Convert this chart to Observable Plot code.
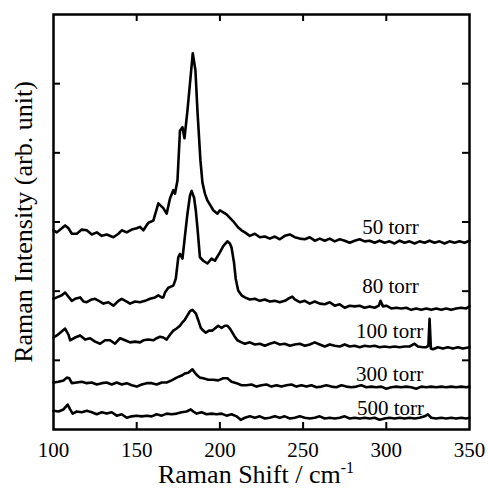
<!DOCTYPE html>
<html><head><meta charset="utf-8">
<script src="https://cdn.jsdelivr.net/npm/d3@7"></script>
<script src="https://cdn.jsdelivr.net/npm/@observablehq/plot@0.6"></script>
<style>body{margin:0;background:#fff} svg{display:block}</style>
</head><body><div id="chart"></div><script>
// Raman shift (cm^-1) and intensity (arb. units, vertically offset) per pressure
const x50 = [100,102,105,107,109,111,114,117,120,123,126,129,132,136,139,141,144,147,150,152,154,157,160,163,166,168,170,172,173,174.5,176,177.5,178.7,180.5,182,183.7,185.3,186.5,188.3,189.5,191,192.5,194.3,196,198.5,200,202,204,206,208,211,213,215,218,221,224,227,230,233,236,239,242,245,248,251,254,257,260,263,266,269,272,275,278,281,284,287,290,293,296,299,302,305,308,311,314,317,320,323,326,329,332,335,338,341,344,347,350];
const y50 = [2.88,2.85,2.91,2.95,2.91,2.83,2.83,2.89,2.88,2.82,2.85,2.80,2.82,2.78,2.83,2.88,2.85,2.89,2.91,2.93,2.88,2.99,3.02,3.27,3.20,3.12,3.34,3.46,3.41,3.60,4.32,4.37,4.21,4.61,5.00,5.44,5.19,4.61,3.89,3.57,3.41,3.31,3.24,3.17,3.12,3.17,3.14,3.11,3.06,3.01,2.92,2.88,2.85,2.80,2.83,2.78,2.79,2.76,2.79,2.75,2.80,2.82,2.78,2.76,2.75,2.78,2.73,2.76,2.73,2.76,2.72,2.75,2.73,2.70,2.73,2.75,2.72,2.73,2.70,2.73,2.70,2.72,2.69,2.73,2.70,2.72,2.69,2.72,2.70,2.73,2.70,2.72,2.69,2.72,2.70,2.72,2.70,2.73];

const x80 = [100,102,105,107,109,111,113,116,118,120,123,125,128,130,133,136,139,141,144,146,149,152,155,158,161,163,165,166,167,169,172,173.5,175,176,177.5,179,180.5,182,183,184.5,185.5,186.5,188,190,192.5,195,197,200,202,204.5,206,207,208.5,209.5,211,213,215,218,221,224,227,230,233,236,239,241,243.5,245,248,251,254,257,260,263,266,269,272,275,278,281,284,287,290,293,295.5,296.5,298,300,303,306,309,312,315,318,321,324,327,330,333,336,339,342,345,348,350];
const y80 = [1.89,1.91,1.94,1.98,1.92,1.86,1.89,1.91,1.85,1.84,1.88,1.89,1.85,1.82,1.84,1.79,1.86,1.89,1.85,1.82,1.85,1.84,1.86,1.89,1.91,1.94,1.91,1.91,1.98,2.05,2.08,2.18,2.49,2.54,2.47,2.80,3.12,3.38,3.45,3.35,3.17,2.92,2.49,2.44,2.40,2.47,2.44,2.56,2.65,2.72,2.69,2.63,2.41,2.18,2.01,1.94,1.91,1.88,1.89,1.86,1.88,1.85,1.86,1.84,1.86,1.89,1.92,1.88,1.84,1.86,1.82,1.85,1.82,1.81,1.84,1.79,1.81,1.76,1.79,1.78,1.79,1.76,1.78,1.76,1.79,1.86,1.78,1.79,1.75,1.76,1.75,1.76,1.73,1.75,1.73,1.75,1.73,1.75,1.73,1.75,1.73,1.75,1.76,1.75,1.78];

const x100 = [100,102,104,107,109,110,113,116,119,122,125,128,131,134,137,140,143,146,149,152,154,157,160,162,164,166,168,170,172,174,176,177.5,179,180.5,182,183.5,185.5,187,188.5,190,191.5,193.5,195.5,197,199,201,203,204.5,206,207.5,209,210.5,213,215,218,221,224,227,230,233,236,239,242,245,248,251,254,257,260,263,266,269,272,275,278,281,284,287,290,293,296,299,302,305,308,311,314,317,319,322,324,325.3,326,326.8,328,331,334,337,340,343,346,350];
const y100 = [1.33,1.36,1.40,1.46,1.37,1.29,1.33,1.36,1.30,1.32,1.27,1.24,1.29,1.29,1.24,1.32,1.29,1.26,1.27,1.26,1.29,1.30,1.29,1.32,1.34,1.33,1.30,1.37,1.43,1.46,1.50,1.55,1.59,1.65,1.71,1.73,1.68,1.58,1.47,1.43,1.40,1.43,1.43,1.46,1.50,1.47,1.50,1.50,1.46,1.40,1.34,1.29,1.26,1.24,1.26,1.23,1.24,1.21,1.24,1.26,1.23,1.24,1.21,1.23,1.24,1.21,1.23,1.26,1.23,1.20,1.23,1.21,1.20,1.23,1.20,1.21,1.19,1.21,1.20,1.21,1.19,1.20,1.19,1.20,1.19,1.20,1.20,1.24,1.20,1.19,1.19,1.21,1.60,1.17,1.16,1.19,1.17,1.19,1.17,1.19,1.17,1.19];

const x300 = [100,103,106,108,109.5,111,114,117,120,123,126,129,132,135,138,141,144,147,150,153,156,159,162,165,168,171,174,177,179,181,183.5,185,186.5,188,190,193,196,199,202,204.5,207,210,213,216,219,222,225,228,231,234,237,240,243,246,249,252,255,258,261,264,267,270,273,276,279,282,285,288,291,294,297,300,303,306,309,312,315,318,321,324,327,330,333,336,339,342,345,348,350];
const y300 = [0.68,0.69,0.71,0.75,0.74,0.67,0.68,0.69,0.67,0.68,0.65,0.67,0.68,0.65,0.68,0.65,0.67,0.64,0.62,0.65,0.67,0.67,0.65,0.68,0.68,0.71,0.75,0.78,0.81,0.82,0.87,0.82,0.78,0.75,0.74,0.72,0.72,0.71,0.74,0.74,0.69,0.67,0.64,0.64,0.65,0.62,0.64,0.65,0.62,0.64,0.62,0.64,0.65,0.62,0.64,0.62,0.64,0.61,0.62,0.64,0.62,0.61,0.64,0.62,0.61,0.62,0.64,0.61,0.62,0.61,0.62,0.59,0.61,0.62,0.61,0.62,0.61,0.59,0.62,0.61,0.62,0.61,0.62,0.61,0.62,0.61,0.62,0.61,0.62];

const x500 = [100,103,106,108.5,110,111.5,114,117,120,123,126,129,132,135,138,141,144,147,150,153,156,159,162,165,168,171,174,177,180,182.5,184,186,189,192,195,198,201,204,207,210,212.5,215,218,221,224,227,230,233,236,239,242,245,248,251,254,257,260,263,266,269,272,275,278,281,284,287,290,293,296,299,302,305,308,311,314,317,320,323,325,327,330,333,336,339,342,345,348,350];
const y500 = [0.27,0.26,0.29,0.36,0.29,0.23,0.26,0.25,0.27,0.25,0.22,0.25,0.23,0.25,0.20,0.22,0.17,0.19,0.20,0.19,0.20,0.19,0.22,0.20,0.23,0.22,0.23,0.25,0.26,0.29,0.26,0.23,0.25,0.22,0.23,0.22,0.23,0.20,0.22,0.19,0.14,0.17,0.19,0.17,0.19,0.16,0.17,0.19,0.17,0.19,0.16,0.17,0.19,0.17,0.16,0.17,0.19,0.16,0.17,0.16,0.17,0.19,0.16,0.17,0.16,0.17,0.16,0.17,0.14,0.16,0.17,0.16,0.17,0.16,0.17,0.16,0.17,0.19,0.22,0.17,0.16,0.17,0.16,0.17,0.16,0.17,0.16,0.17];

const seriesNames = ["50 torr", "80 torr", "100 torr", "300 torr", "500 torr"];
const labelX = [302.5, 302.5, 302, 302, 302.5];
const labelY = [2.93, 2.07, 1.42, 0.80, 0.31];

const xTickLabels = [100, 150, 200, 250, 300, 350];
const xInnerTicks = [150, 200, 250, 300];
const yInnerTicks = [1, 2, 3, 4, 5];

const xs = [x50, x80, x100, x300, x500];
const ys = [y50, y80, y100, y300, y500];
const rows = [];
seriesNames.forEach((name, i) => xs[i].forEach((xv, j) => rows.push({series: name, x: xv, y: ys[i][j]})));
const labels = seriesNames.map((name, i) => ({text: name, x: labelX[i], y: labelY[i]}));

const W = 488, H = 489, mL = 53, mR = 19, mT = 14, mB = 60;
const fw = W - mL - mR, fh = H - mT - mB, tl = 7;
const font = "'Liberation Serif', 'Times New Roman', serif";

const chart = Plot.plot({
  width: W, height: H,
  marginLeft: mL, marginRight: mR, marginTop: mT, marginBottom: mB,
  style: {fontFamily: font, fontSize: "21px", background: "white", color: "black"},
  x: {domain: [100, 350], axis: null},
  y: {domain: [0, 6], axis: null},
  marks: [
    Plot.tickX(xInnerTicks, {x: d => d, insetTop: fh - tl, stroke: "black", strokeWidth: 2}),
    Plot.tickX(xInnerTicks, {x: d => d, insetBottom: fh - tl, stroke: "black", strokeWidth: 2}),
    Plot.tickY(yInnerTicks, {y: d => d, insetRight: fw - tl, stroke: "black", strokeWidth: 2}),
    Plot.tickY(yInnerTicks, {y: d => d, insetLeft: fw - tl, stroke: "black", strokeWidth: 2}),
    Plot.line(rows, {x: "x", y: "y", z: "series", stroke: "black", strokeWidth: 2.6, strokeLinejoin: "round"}),
    Plot.frame({stroke: "black", strokeWidth: 2.5}),
    Plot.text(xTickLabels, {x: d => d, text: d => String(d), frameAnchor: "bottom", lineAnchor: "middle", dy: 21, fontSize: 21, fill: "black"}),
    Plot.text(labels, {x: "x", y: "y", text: "text", fontSize: 21, fill: "black"}),
    Plot.text(["Raman Intensity (arb. unit)"], {frameAnchor: "left", textAnchor: "middle", lineAnchor: "middle", rotate: -90, dx: -30, fontSize: 26, fill: "black"})
  ]
});
document.getElementById("chart").appendChild(chart);

// x-axis title with superscript
const svg = d3.select(chart);
const t = svg.append("text")
  .attr("x", 256).attr("y", 483)
  .attr("text-anchor", "middle")
  .attr("font-family", font).attr("font-size", 26).attr("fill", "black");
t.append("tspan").text("Raman Shift / cm");
t.append("tspan").attr("dy", -10).attr("font-size", 16).text("-1");
</script></body></html>
